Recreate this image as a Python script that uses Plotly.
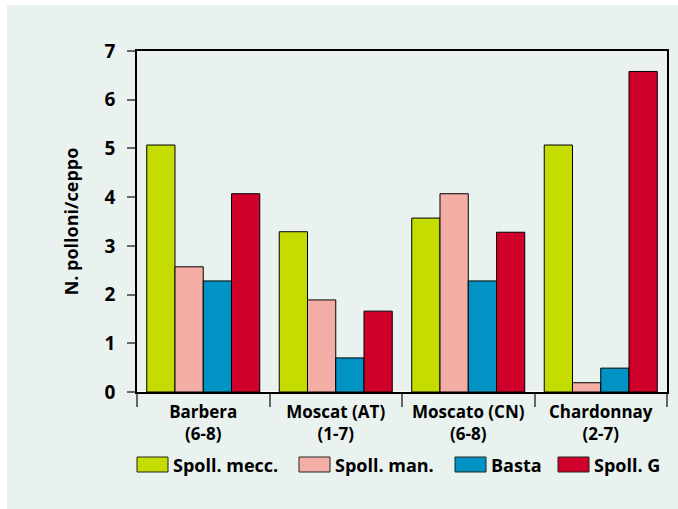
import plotly.graph_objects as go

categories = ["Barbera<br>(6-8)", "Moscat (AT)<br>(1-7)", "Moscato (CN)<br>(6-8)", "Chardonnay<br>(2-7)"]
series_names = ["Spoll. mecc.", "Spoll. man.", "Basta", "Spoll. G"]
spoll_mecc = [5.07, 3.29, 3.57, 5.07]
spoll_man = [2.57, 1.89, 4.07, 0.19]
basta = [2.28, 0.70, 2.28, 0.49]
spoll_g = [4.07, 1.66, 3.28, 6.58]
y_ticks = [0, 1, 2, 3, 4, 5, 6, 7]

colors = ["#c5dc00", "#f5aea6", "#0093c3", "#cf0029"]
values = [spoll_mecc, spoll_man, basta, spoll_g]
bg = "#e9f2ef"
font_family = "Open Sans"

fig = go.Figure()
for name, vals, col in zip(series_names, values, colors):
    fig.add_trace(go.Bar(x=categories, y=vals, name=name, marker=dict(color=col, line=dict(color="black", width=1)),
                         showlegend=False))

W, H = 678, 509
L, R, T, B = 137, 11, 51, 117
pw, ph = W - L - R, H - T - B

def px_x(p):
    return (p - L) / pw

def px_y(p):
    return (H - B - p) / ph

# white border strips on left and top of the tinted panel
shapes = [
    dict(type="rect", xref="paper", yref="paper", x0=px_x(-20), x1=px_x(7), y0=px_y(530), y1=px_y(-20),
         fillcolor="white", line=dict(width=0), layer="below"),
    dict(type="rect", xref="paper", yref="paper", x0=px_x(-20), x1=px_x(700), y0=px_y(5), y1=px_y(-20),
         fillcolor="white", line=dict(width=0), layer="below"),
]
annotations = []
legend_x = [137, 299, 455, 558]
for i, (name, col) in enumerate(zip(series_names, colors)):
    x0 = legend_x[i]
    shapes.append(dict(type="rect", xref="paper", yref="paper", x0=px_x(x0), x1=px_x(x0 + 31),
                       y0=px_y(472), y1=px_y(457), fillcolor=col, line=dict(color="#222", width=1)))
    annotations.append(dict(xref="paper", yref="paper", x=px_x(x0 + 34), y=px_y(465), text=name,
                            showarrow=False, xanchor="left", yanchor="middle",
                            font=dict(family=font_family, size=18, color="black", weight="bold")))

fig.update_layout(
    width=W, height=H, autosize=False,
    margin=dict(l=L, r=R, t=T, b=B, autoexpand=False),
    paper_bgcolor=bg, plot_bgcolor=bg,
    barmode="group", bargap=0.147, bargroupgap=0,
    font=dict(family=font_family, color="black"),
    shapes=shapes, annotations=annotations,
    xaxis=dict(showline=True, linecolor="black", linewidth=1.5, mirror=True, automargin=False,
               ticks="outside", tickson="boundaries", ticklen=13, tickcolor="#666", tickwidth=1.5,
               ticklabelstandoff=4,
               tickfont=dict(family=font_family, size=17, color="black", weight="bold"), showgrid=False),
    yaxis=dict(range=[0, 7], tickvals=y_ticks, showline=True, linecolor="black", linewidth=1.5, mirror=True,
               automargin=False,
               ticks="outside", ticklen=8, tickcolor="#666", tickwidth=1.5, ticklabelstandoff=8,
               tickfont=dict(family=font_family, size=19, color="black", weight="bold"), showgrid=False,
               title=dict(text="N. polloni/ceppo", font=dict(family=font_family, size=18, color="black", weight="bold"),
                          standoff=21)),
)

fig.write_html("out.html", config={"responsive": False, "displayModeBar": False},
               post_script="document.body.style.margin='0';document.body.style.padding='0';"
                           "document.body.style.overflow='hidden';document.body.style.background='" + bg + "';"
                           "document.documentElement.style.background='" + bg + "';")
